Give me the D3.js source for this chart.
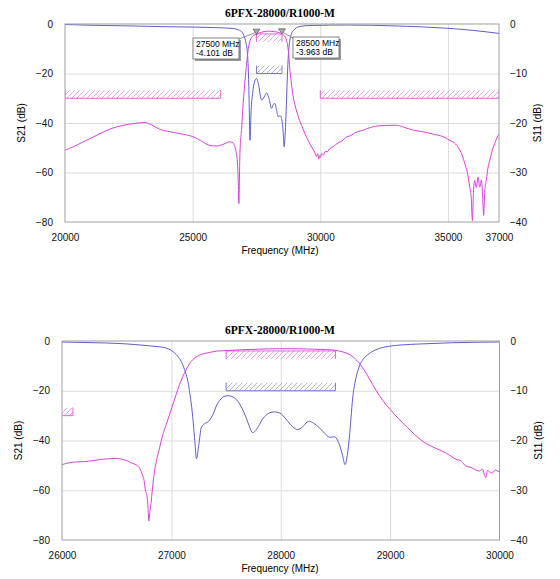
<!DOCTYPE html>
<html>
<head>
<meta charset="utf-8">
<script src="https://cdn.jsdelivr.net/npm/d3@7"></script>
<style>
  body { margin: 0; background: #fff; }
  svg { display: block; }
</style>
</head>
<body>
<svg id="chart" width="560" height="579" font-family="Arial, 'Liberation Sans', sans-serif"></svg>
<script>
// ---- data (dB values on the left scale) ----
const titleText = '6PFX-28000/R1000-M';

const topTicksX = [20000, 25000, 30000, 35000, 37000];
const bottomTicksX = [26000, 27000, 28000, 29000, 30000];
const leftTicks = [0, -20, -40, -60, -80];
const rightTickLabels = [0, -10, -20, -30, -40];

// wide sweep, S21 (magenta)
const topS21 = [[20000,-51],[20350,-49.5],[20717,-47.6],[21000,-46.2],[21370,-44.3],[21800,-42.3],[22300,-40.9],[22700,-40.2],[23130,-39.8],[23400,-40.8],[23720,-42.6],[24100,-43.5],[24500,-44.3],[25025,-45.6],[25300,-47],[25550,-48.6],[25750,-49.2],[25940,-49.3],[26200,-48.6],[26460,-47.6],[26580,-48],[26630,-49],[26700,-51.5],[26760,-57],[26785,-63.2],[26810,-72.6],[26830,-64],[26852,-52.3],[26920,-42],[26980,-32.1],[27050,-23],[27115,-15.9],[27180,-10],[27245,-6.8],[27375,-4.7],[27500,-4.1],[27700,-3.3],[27960,-2.9],[28200,-3.1],[28400,-3.5],[28500,-3.96],[28600,-4.9],[28680,-6.6],[28750,-11],[28810,-18.6],[28880,-25],[28940,-29.4],[29040,-34],[29140,-37.5],[29270,-41],[29400,-44.3],[29530,-47.2],[29660,-49.7],[29780,-51.8],[29850,-53.5],[29900,-52.4],[29940,-54.6],[29970,-53.2],[30000,-53.9],[30050,-52.3],[30120,-53],[30200,-51.5],[30280,-51.6],[30375,-50.3],[30500,-49.6],[30700,-48],[30850,-47.3],[31030,-45.6],[31200,-45.1],[31350,-44],[31680,-42.9],[32000,-41.7],[32500,-41],[32985,-40.9],[33300,-41.8],[33640,-42.9],[34000,-43.5],[34420,-44.5],[34800,-45.5],[35075,-47],[35300,-48.5],[35465,-51],[35560,-53],[35660,-56.4],[35760,-60],[35855,-65.9],[35910,-70],[35960,-79.4],[36000,-68],[36050,-63.2],[36110,-66],[36180,-61.8],[36245,-65.9],[36310,-63],[36360,-70],[36400,-77.3],[36440,-68],[36505,-63],[36570,-58],[36640,-55],[36740,-51],[36830,-48.3],[36920,-46],[37000,-44.3]];

// wide sweep, S11 (blue)
const topS11 = [[20000,-0.2],[21000,-0.5],[22660,-0.8],[24000,-1.1],[25285,-1.3],[26000,-1.5],[26580,-1.8],[26800,-2.4],[26920,-3.1],[27000,-4.5],[27090,-7.7],[27140,-11],[27180,-18.6],[27210,-30],[27245,-47],[27290,-35],[27350,-28],[27420,-23.5],[27505,-22],[27580,-24.5],[27700,-30.8],[27800,-29.5],[27897,-27.8],[28000,-30.5],[28093,-34.1],[28160,-32.5],[28222,-32.1],[28290,-35],[28352,-37.5],[28420,-37],[28485,-38.2],[28540,-43],[28587,-49.7],[28620,-45],[28653,-38],[28690,-27],[28720,-18.6],[28760,-11],[28810,-6.5],[28870,-4],[28940,-2.7],[29200,-1.0],[29600,-0.6],[31030,-0.4],[33000,-0.8],[34945,-1.7],[36000,-2.6],[37000,-3.8]];

// narrow sweep, S21 (magenta)
const bottomS21 = [[26000,-49.7],[26060,-49],[26131,-48.6],[26200,-48.5],[26283,-48.1],[26360,-47.6],[26435,-47.3],[26500,-47.2],[26557,-47.7],[26600,-48.2],[26634,-49],[26665,-49.5],[26694,-50.3],[26715,-51.5],[26734,-53.7],[26750,-56],[26764,-60.4],[26776,-62],[26785,-66],[26794,-72.4],[26805,-68],[26816,-64.4],[26830,-58],[26846,-52.3],[26870,-47],[26892,-43],[26920,-38],[26953,-33.6],[26985,-29.4],[27013,-25.6],[27045,-21.4],[27075,-17.5],[27105,-14.2],[27136,-11.5],[27165,-9.2],[27196,-7.5],[27240,-6.1],[27288,-5.2],[27350,-4.6],[27410,-4.1],[27520,-3.8],[27653,-3.5],[27800,-3.3],[27988,-3.1],[28100,-3.1],[28232,-3.2],[28360,-3.4],[28475,-3.6],[28540,-4.1],[28597,-4.8],[28635,-5.6],[28673,-6.8],[28710,-8.5],[28749,-10.8],[28795,-14],[28840,-17.5],[28900,-21.8],[28963,-25.6],[29040,-29.5],[29114,-32.9],[29200,-36.6],[29297,-40.3],[29400,-42.8],[29510,-45],[29600,-47.5],[29650,-48.3],[29693,-50.3],[29740,-50.8],[29780,-51.8],[29814,-52.3],[29845,-51.5],[29860,-53.5],[29876,-55],[29890,-52],[29915,-52.8],[29937,-53],[29960,-51.8],[29982,-52.3],[30000,-52.5]];

// narrow sweep, S11 (blue)
const bottomS11 = [[26000,-0.4],[26200,-0.6],[26405,-0.8],[26600,-1.2],[26740,-1.7],[26880,-2.3],[26953,-2.8],[27000,-3.8],[27029,-4.8],[27060,-6.2],[27090,-8.2],[27120,-11.5],[27151,-16.2],[27172,-22],[27190,-28.2],[27212,-38.9],[27230,-47.3],[27251,-41.6],[27273,-34.9],[27295,-33.5],[27318,-32.9],[27340,-32.3],[27364,-30.9],[27390,-28.5],[27410,-26.2],[27440,-24],[27470,-22.6],[27510,-22],[27547,-22.2],[27580,-23],[27607,-24.2],[27645,-27],[27684,-30.9],[27715,-34.5],[27744,-36.9],[27770,-36],[27805,-33.6],[27835,-31.3],[27866,-29.8],[27900,-28.8],[27942,-28.5],[27988,-28.9],[28020,-30],[28064,-32.3],[28110,-34.5],[28155,-35.6],[28200,-34.5],[28240,-32.6],[28262,-32.3],[28300,-33],[28353,-34.9],[28400,-37],[28445,-38.7],[28490,-38.5],[28536,-41.6],[28565,-46],[28588,-49.7],[28608,-46],[28627,-39],[28642,-31],[28658,-22.9],[28680,-16.5],[28703,-12.2],[28730,-9],[28764,-6.8],[28820,-4.7],[28871,-3.5],[28993,-2.1],[29100,-1.6],[29267,-1.2],[29571,-0.7],[30000,-0.4]];

// spec masks: [start MHz, stop MHz, limit dB, hatch side, trace]
const masks = [
  [20000, 26100, -30, 'above', 's21'],
  [30000, 37000, -30, 'above', 's21'],
  [27500, 28500, -4, 'below', 's21'],
  [27500, 28500, -20, 'above', 's11']
];

// markers on the wide sweep: [MHz, dB]
const markers = [[27500, -4.101], [28500, -3.963]];

// ---- drawing ----
const magenta = '#dc3fdc';
const blue = '#5d5dd0';
const svg = d3.select('#chart');

const defs = svg.append('defs');
function hatch(id, color) {
  const p = defs.append('pattern')
    .attr('id', id)
    .attr('patternUnits', 'userSpaceOnUse')
    .attr('width', 5).attr('height', 5);
  p.append('path')
    .attr('d', 'M-1,1 l2,-2 M0,5 l5,-5 M4,6 l2,-2')
    .attr('stroke', color).attr('stroke-width', 0.8).attr('opacity', 0.6);
}
hatch('hatch-s21', magenta);
hatch('hatch-s11', blue);

function drawChart(cfg) {
  const x = d3.scaleLinear().domain(cfg.xDomain).range([cfg.left, cfg.right]);
  const y = d3.scaleLinear().domain([0, -80]).range([cfg.top, cfg.bottom]);
  const yR = d3.scaleLinear().domain([0, -40]).range([cfg.top, cfg.bottom]);
  const g = svg.append('g');

  // grid
  g.append('g')
    .attr('transform', `translate(0,${cfg.bottom})`)
    .call(d3.axisBottom(x).tickValues(cfg.gridX).tickSize(-(cfg.bottom - cfg.top)).tickFormat(''))
    .call(a => a.select('.domain').remove())
    .selectAll('line').attr('stroke', '#dcdcdc');
  g.append('g')
    .attr('transform', `translate(${cfg.left},0)`)
    .call(d3.axisLeft(y).tickValues([-20, -40, -60]).tickSize(-(cfg.right - cfg.left)).tickFormat(''))
    .call(a => a.select('.domain').remove())
    .selectAll('line').attr('stroke', '#dcdcdc');

  // tick labels
  const xa = g.append('g')
    .attr('transform', `translate(0,${cfg.bottom})`)
    .call(d3.axisBottom(x).tickValues(cfg.ticksX).tickSize(0).tickPadding(12).tickFormat(d3.format('d')));
  const ya = g.append('g')
    .attr('transform', `translate(${cfg.left},0)`)
    .call(d3.axisLeft(y).tickValues(leftTicks).tickSize(0).tickPadding(cfg.leftPad).tickFormat(d3.format('d')));
  const yb = g.append('g')
    .attr('transform', `translate(${cfg.right},0)`)
    .call(d3.axisRight(yR).tickValues(rightTickLabels).tickSize(0).tickPadding(11).tickFormat(d3.format('d')));
  [xa, ya, yb].forEach(a => {
    a.select('.domain').remove();
    a.attr('font-family', null).attr('font-size', null);
    a.selectAll('text').attr('font-size', 10).attr('fill', '#111');
  });

  // clip
  const clipId = 'clip' + cfg.id;
  defs.append('clipPath').attr('id', clipId).append('rect')
    .attr('x', cfg.left).attr('y', cfg.top)
    .attr('width', cfg.right - cfg.left).attr('height', cfg.bottom - cfg.top);
  const plot = g.append('g').attr('clip-path', `url(#${clipId})`);

  // masks
  const hp = 8;
  masks.forEach(([f0, f1, lim, side, tr]) => {
    const color = tr === 's21' ? magenta : blue;
    const x0 = x(f0), x1 = x(f1), yl = y(lim);
    const yo = side === 'above' ? yl - hp : yl + hp;
    plot.append('rect')
      .attr('x', x0).attr('y', Math.min(yl, yo))
      .attr('width', x1 - x0).attr('height', hp)
      .attr('fill', `url(#hatch-${tr})`);
    plot.append('path')
      .attr('d', `M${x0},${yo}L${x0},${yl}L${x1},${yl}L${x1},${yo}`)
      .attr('fill', 'none').attr('stroke', color).attr('stroke-width', 1).attr('opacity', 0.8);
  });

  const line = d3.line().x(d => x(d[0])).y(d => y(d[1])).curve(d3.curveMonotoneX);
  plot.append('path').datum(cfg.s11).attr('d', line)
    .attr('fill', 'none').attr('stroke', blue).attr('stroke-width', 1);
  plot.append('path').datum(cfg.s21).attr('d', line)
    .attr('fill', 'none').attr('stroke', magenta).attr('stroke-width', 1);

  // frame
  g.append('rect')
    .attr('x', cfg.left).attr('y', cfg.top)
    .attr('width', cfg.right - cfg.left).attr('height', cfg.bottom - cfg.top)
    .attr('fill', 'none').attr('stroke', '#a0a0a0').attr('stroke-width', 1);

  // title and axis titles
  g.append('text')
    .attr('x', 280).attr('y', cfg.top - 7)
    .attr('text-anchor', 'middle')
    .attr('font-family', "'Liberation Serif', 'Times New Roman', serif")
    .attr('font-weight', 'bold').attr('font-size', 11.5)
    .text(titleText);
  g.append('text')
    .attr('x', 280).attr('y', cfg.bottom + 32)
    .attr('text-anchor', 'middle').attr('font-size', 10)
    .text('Frequency (MHz)');
  const cy = (cfg.top + cfg.bottom) / 2;
  g.append('text')
    .attr('transform', `translate(${cfg.left - 40},${cy}) rotate(-90)`)
    .attr('text-anchor', 'middle').attr('font-size', 10)
    .text('S21 (dB)');
  g.append('text')
    .attr('transform', `translate(${cfg.right + 42},${cy}) rotate(-90)`)
    .attr('text-anchor', 'middle').attr('font-size', 10)
    .text('S11 (dB)');

  return { x, y, g };
}

const wide = drawChart({
  id: 'a', xDomain: [20000, 37000], ticksX: topTicksX, gridX: [25000, 30000, 35000],
  left: 65, right: 499, top: 24, bottom: 222, leftPad: 12,
  s21: topS21, s11: topS11
});

drawChart({
  id: 'b', xDomain: [26000, 30000], ticksX: bottomTicksX, gridX: [27000, 28000, 29000],
  left: 62, right: 499.5, top: 341, bottom: 540, leftPad: 12,
  s21: bottomS21, s11: bottomS11
});

// marker boxes on the wide sweep
const boxes = [
  { dx: 193, dy: 38, anchorX: 239, anchorY: 39 },
  { dx: 293, dy: 37, anchorX: 293, anchorY: 38 }
];
markers.forEach(([f, v], i) => {
  const px = wide.x(f), py = wide.y(v);
  const b = boxes[i];
  const mg = wide.g.append('g');
  mg.append('line')
    .attr('x1', b.anchorX).attr('y1', b.anchorY).attr('x2', px).attr('y2', py - 2)
    .attr('stroke', '#777').attr('stroke-width', 0.8);
  mg.append('path')
    .attr('d', `M${px},${py}L${px - 3.5},${py - 5}L${px + 3.5},${py - 5}Z`)
    .attr('fill', '#aaa').attr('stroke', '#555').attr('stroke-width', 0.7);
  mg.append('rect')
    .attr('x', b.dx + 2).attr('y', b.dy + 2).attr('width', 46).attr('height', 21)
    .attr('fill', '#9a9a9a');
  mg.append('rect')
    .attr('x', b.dx).attr('y', b.dy).attr('width', 46).attr('height', 21)
    .attr('fill', '#fff').attr('stroke', '#666').attr('stroke-width', 0.8);
  mg.append('text')
    .attr('x', b.dx + 3).attr('y', b.dy + 9).attr('font-size', 8.5)
    .text(`${f} MHz`);
  mg.append('text')
    .attr('x', b.dx + 3).attr('y', b.dy + 18).attr('font-size', 8.5)
    .text(`${v.toFixed(3)} dB`);
});
</script>
</body>
</html>
